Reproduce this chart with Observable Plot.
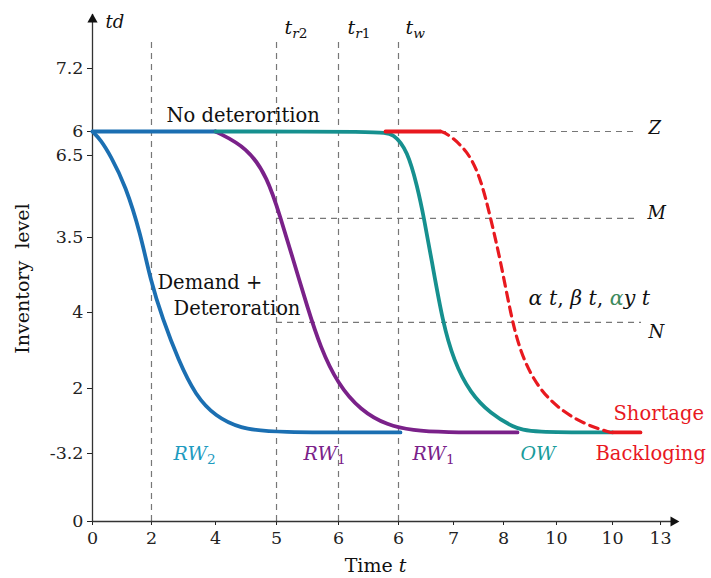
<!DOCTYPE html>
<html>
<head>
<meta charset="utf-8">
<script src="https://cdn.jsdelivr.net/npm/d3@7"></script>
<script src="https://cdn.jsdelivr.net/npm/@observablehq/plot@0.6"></script>
<style>
  html, body { margin: 0; padding: 0; background: #ffffff; }
  #chart svg, #chart svg text { font-family: "DejaVu Serif", serif !important; }
</style>
</head>
<body>
<div id="chart"></div>
<script>
// ---- tick positions (scale units) and their printed labels ----
const xTickPos    = [0, 0.983, 2.05, 3.067, 4.1, 5.1, 6.017, 6.85, 7.733, 8.667, 9.467];
const xTickLabels = ["0", "2", "4", "5", "6", "6", "7", "8", "10", "10", "13"];
const yTickPos    = [0, 1.046, 2.046, 3.215, 4.369, 5.631, 6.0, 6.969];
const yTickLabels = ["0", "-3.2", "2", "4", "3.5", "6.5", "6", "7.2"];

// ---- inventory curves ----
const rw2Time  = [0, 0.133, 0.3, 0.55, 0.8, 0.967, 1.167, 1.433, 1.717, 2.05, 2.467, 2.967, 5.133];
const rw2Level = [6.0, 5.877, 5.631, 5.169, 4.431, 3.708, 3.123, 2.477, 1.938, 1.615, 1.431, 1.37, 1.37];

const flatTime  = [0, 2.05];
const flatLevel = [6.0, 6.0];

const rw1Time  = [2.05, 2.583, 2.917, 3.133, 3.35, 3.583, 3.8, 4.083, 4.467, 4.917, 5.35, 5.8, 7.083];
const rw1Level = [6.0, 5.754, 5.292, 4.677, 4.015, 3.292, 2.677, 2.123, 1.708, 1.477, 1.4, 1.37, 1.37];

const owTime  = [2.05, 4.8, 5.017, 5.25, 5.417, 5.517, 5.683, 5.833, 6.017, 6.3, 6.633, 7.017, 7.3, 8.667];
const owLevel = [6.0, 6.0, 5.969, 5.708, 5.138, 4.708, 3.862, 3.092, 2.477, 1.969, 1.662, 1.446, 1.37, 1.37];

const shortTopTime  = [4.883, 5.8];
const shortTopLevel = [6.0, 6.0];
const shortTime  = [5.8, 5.917, 6.25, 6.467, 6.633, 6.8, 6.967, 7.133, 7.417, 7.8, 8.25, 8.633];
const shortLevel = [6.0, 5.969, 5.708, 5.292, 4.677, 4.015, 3.2, 2.585, 2.062, 1.708, 1.477, 1.37];
const backlogTime  = [8.667, 9.133];
const backlogLevel = [1.37, 1.37];

// ---- reference (dashed) lines ----
const vGuideTime = [0.983, 3.067, 4.1, 5.1];
const vGuideTop = 7.43;
const hGuideLevel = [6.0, 4.662, 3.062];
const hGuideStart = [5.8, 3.067, 3.067];
const hGuideEnd   = [9.083, 9.083, 9.15];

const pts = (xs, ys) => xs.map((x, i) => ({x, y: ys[i]}));
const xLab = new Map(xTickPos.map((p, i) => [p, xTickLabels[i]]));
const yLab = new Map(yTickPos.map((p, i) => [p, yTickLabels[i]]));

const BLUE = "#1b6fb2", PURPLE = "#7a2189", TEAL = "#16908f", RED = "#e8191f";

const lbl = (text, x, y, o = {}) =>
  Plot.text([text], {x: () => x, y: () => y, text: d => d, textAnchor: "start",
    fontSize: 19, fill: "#111", ...o});

const plot = Plot.plot({
  width: 711,
  height: 578,
  marginLeft: 92,
  marginRight: 19,
  marginTop: 1,
  marginBottom: 57,
  style: {fontFamily: "'DejaVu Serif', serif", fontSize: "17.5px", background: "#ffffff", color: "#222", overflow: "visible"},
  x: {domain: [0, 10], ticks: xTickPos, tickFormat: d => xLab.get(d), tickSize: 4, tickPadding: 6, label: null},
  y: {domain: [0, 8], ticks: yTickPos, tickFormat: d => yLab.get(d), tickSize: 5, tickPadding: 4, label: null},
  marks: [
    // dashed guides
    Plot.ruleX(vGuideTime, {x: d => d, y1: 0, y2: vGuideTop, stroke: "#777", strokeWidth: 1.2, strokeDasharray: "6,5"}),
    Plot.ruleY(hGuideLevel.map((v, i) => ({v, a: hGuideStart[i], b: hGuideEnd[i]})),
      {y: "v", x1: "a", x2: "b", stroke: "#777", strokeWidth: 1.2, strokeDasharray: "6,5"}),
    // axes lines + arrow heads
    Plot.ruleY([0], {x1: 0, x2: 9.75, stroke: "#333", strokeWidth: 1.3}),
    Plot.ruleX([0], {y1: 0, y2: 7.8, stroke: "#333", strokeWidth: 1.3}),
    Plot.dot([[9.683, 0]], {x: d => d[0], y: d => d[1], symbol: "triangle", r: 3.8, rotate: 90, fill: "#111", stroke: "none"}),
    Plot.dot([[0, 7.723]], {x: d => d[0], y: d => d[1], symbol: "triangle", r: 3.8, fill: "#111", stroke: "none"}),
    // curves
    Plot.line(pts(rw2Time, rw2Level), {x: "x", y: "y", stroke: BLUE, strokeWidth: 3.8, curve: "basis"}),
    Plot.line(pts(flatTime, flatLevel), {x: "x", y: "y", stroke: BLUE, strokeWidth: 3.8}),
    Plot.line(pts(rw1Time, rw1Level), {x: "x", y: "y", stroke: PURPLE, strokeWidth: 3.8, curve: "basis"}),
    Plot.line(pts(owTime, owLevel), {x: "x", y: "y", stroke: TEAL, strokeWidth: 3.8, curve: "basis"}),
    Plot.line(pts(shortTopTime, shortTopLevel), {x: "x", y: "y", stroke: RED, strokeWidth: 3.8}),
    Plot.line(pts(shortTime, shortLevel), {x: "x", y: "y", stroke: RED, strokeWidth: 3.2, strokeDasharray: "9,6", curve: "basis"}),
    Plot.line(pts(backlogTime, backlogLevel), {x: "x", y: "y", stroke: RED, strokeWidth: 3.8}),
    // annotations
    lbl("*td*", 0.217, 7.677, {fontSize: 18}),
    lbl("*t*_r2", 3.2, 7.6, {fontSize: 19}),
    lbl("*t*_r1", 4.25, 7.6, {fontSize: 19}),
    lbl("*t*_w", 5.217, 7.6, {fontSize: 19}),
    lbl("No deterorition", 1.233, 6.246, {fontSize: 19.5}),
    lbl("Demand +", 1.083, 3.677, {fontSize: 19.5}),
    lbl("Deteroration", 1.35, 3.277, {fontSize: 19.5}),
    lbl("*Z*", 9.267, 6.046, {fontSize: 18}),
    lbl("*M*", 9.25, 4.738, {fontSize: 18}),
    lbl("*N*", 9.267, 2.908, {fontSize: 18}),
    lbl("*α t*, *β t*, {α}*y t*", 7.267, 3.431, {fontSize: 20.5}),
    lbl("*RW*_2", 1.35, 1.046, {fontSize: 19, fill: "#1e9bbf"}),
    lbl("*RW*_1", 3.517, 1.046, {fontSize: 19, fill: PURPLE}),
    lbl("*RW*_1", 5.333, 1.046, {fontSize: 19, fill: PURPLE}),
    lbl("*OW*", 7.133, 1.046, {fontSize: 19, fill: "#199c9c"}),
    lbl("Shortage", 8.683, 1.662, {fontSize: 19.5, fill: RED}),
    lbl("Backloging", 8.383, 1.046, {fontSize: 19.5, fill: RED}),
    lbl("Inventory  level", -1.167, 3.738, {fontSize: 19, textAnchor: "middle", rotate: -90}),
    lbl("Time *t*", 4.717, -0.69, {fontSize: 19, textAnchor: "middle"})
  ]
});

// rich-text post-processing: *italic*, _subscript (to end), {green}
const NS = "http://www.w3.org/2000/svg";
plot.querySelectorAll("text").forEach(el => {
  const s = el.textContent;
  if (!/[*_{]/.test(s) || el.querySelector("tspan")) return;
  el.textContent = "";
  const re = /\*([^*]+)\*|\{([^}]+)\}|_(.+)$|([^*{_]+)/g;
  let m;
  while ((m = re.exec(s)) !== null) {
    if (m[3] !== undefined) {
      let first = true;
      for (const ch of m[3]) {
        const t = document.createElementNS(NS, "tspan");
        t.textContent = ch;
        t.setAttribute("font-size", "0.72em");
        t.setAttribute("font-style", /[0-9]/.test(ch) ? "normal" : "italic");
        if (first) { t.setAttribute("dy", "0.35em"); first = false; }
        el.appendChild(t);
      }
      continue;
    }
    const t = document.createElementNS(NS, "tspan");
    if (m[1] !== undefined) { t.textContent = m[1]; t.setAttribute("font-style", "italic"); }
    else if (m[2] !== undefined) { t.textContent = m[2]; t.setAttribute("font-style", "italic"); t.setAttribute("fill", "#3d8a5c"); }
    else { t.textContent = m[4]; }
    el.appendChild(t);
  }
});

document.getElementById("chart").appendChild(plot);
</script>
</body>
</html>
